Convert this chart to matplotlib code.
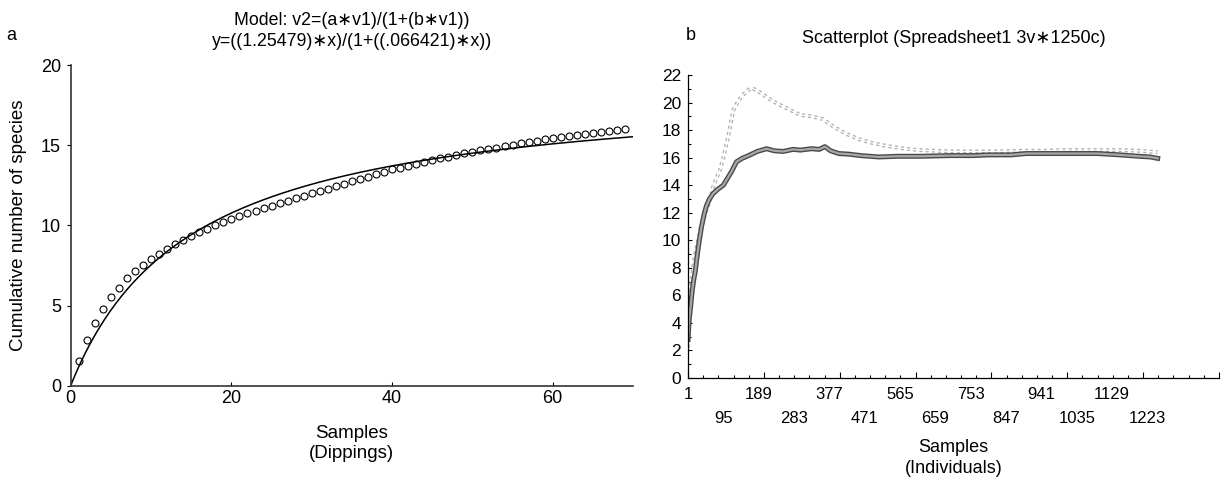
import numpy as np
import matplotlib
matplotlib.use("Agg")
import matplotlib.pyplot as plt
from matplotlib.ticker import MultipleLocator, FixedLocator, NullFormatter

plt.rcParams['font.family'] = ['Liberation Sans', 'DejaVu Sans']

# --- panel a: cumulative species vs dippings ---
dippings = list(range(1, 70))
species = [1.55, 2.85, 3.93, 4.78, 5.53, 6.12, 6.70, 7.15, 7.55, 7.90,
           8.24, 8.50, 8.82, 9.09, 9.35, 9.57, 9.79, 10.00, 10.21, 10.42,
           10.59, 10.76, 10.92, 11.08, 11.24, 11.40, 11.55, 11.70, 11.85, 12.00,
           12.16, 12.31, 12.46, 12.61, 12.76, 12.91, 13.06, 13.21, 13.36, 13.50,
           13.62, 13.74, 13.86, 13.97, 14.08, 14.19, 14.30, 14.40, 14.50, 14.60,
           14.69, 14.78, 14.87, 14.96, 15.05, 15.14, 15.24, 15.31, 15.38, 15.45,
           15.52, 15.58, 15.64, 15.71, 15.77, 15.84, 15.90, 15.97, 16.03]
a_par = 1.25479
b_par = 0.066421

# --- panel b: accumulation over individuals (two series) ---
dark_x = [1, 4, 8, 12, 16, 20, 25, 30, 37, 44, 50, 58, 68, 80, 95, 106, 117,
          130, 145, 166, 185, 210, 230, 254, 280, 300, 330, 350, 365, 380, 402,
          430, 460, 508, 560, 620, 700, 760, 800, 860, 900, 960, 1030, 1090,
          1150, 1200, 1230, 1250]
dark_y = [2.8, 4.2, 5.2, 6.3, 7.1, 7.7, 8.8, 9.8, 11.0, 11.9, 12.5, 13.0, 13.4,
          13.7, 14.0, 14.5, 15.0, 15.7, 15.95, 16.2, 16.45, 16.65, 16.5, 16.45,
          16.6, 16.55, 16.65, 16.6, 16.8, 16.5, 16.3, 16.25, 16.15, 16.05, 16.1,
          16.1, 16.15, 16.15, 16.2, 16.2, 16.3, 16.3, 16.3, 16.3, 16.2, 16.1,
          16.05, 15.95]
light_x = [1, 4, 8, 12, 15, 20, 28, 35, 42, 50, 60, 68, 78, 86, 95, 108, 121,
           130, 145, 161, 170, 184, 200, 215, 240, 270, 299, 330, 360, 385, 410,
           432, 460, 493, 530, 565, 613, 660, 700, 760, 820, 880, 950, 1000,
           1080, 1150, 1200, 1250]
light_y = [2.2, 4.0, 6.0, 7.3, 8.1, 9.0, 10.0, 10.9, 11.5, 12.2, 12.9, 13.9,
           14.6, 15.1, 16.0, 17.55, 19.4, 19.9, 20.5, 20.9, 21.05, 20.9, 20.6,
           20.3, 19.9, 19.5, 19.1, 19.0, 18.8, 18.3, 17.9, 17.6, 17.3, 17.05,
           16.85, 16.7, 16.55, 16.5, 16.45, 16.45, 16.45, 16.5, 16.5, 16.55,
           16.55, 16.55, 16.5, 16.4]
case_labels = list(range(1, 1224, 94))

fig = plt.figure(figsize=(12.24, 4.84), dpi=100)

# panel a
ax1 = fig.add_axes([0.0578, 0.2035, 0.4594, 0.6612])
xs = np.linspace(0, 70, 300)
ax1.plot(xs, a_par * xs / (1 + b_par * xs), color='black', lw=1.1)
ax1.plot(dippings, species, 'o', mfc='none', mec='black', ms=5, mew=0.8)
ax1.set_xlim(0, 70)
ax1.set_ylim(0, 20)
ax1.set_xticks([0, 20, 40, 60])
ax1.set_yticks([0, 5, 10, 15, 20])
ax1.tick_params(axis='x', direction='in', length=3, pad=3, labelsize=13)
ax1.tick_params(axis='y', direction='out', length=3, pad=4, labelsize=13)
for s in ['top', 'right']:
    ax1.spines[s].set_visible(False)
for s in ['left', 'bottom']:
    ax1.spines[s].set_color('#333333')
    ax1.spines[s].set_linewidth(1.2)
ax1.text(0.5, 1.109, "Model: v2=(a\u2217v1)/(1+(b\u2217v1))\ny=((1.25479)\u2217x)/(1+((.066421)\u2217x))",
         transform=ax1.transAxes, ha='center', va='center', fontsize=12.8,
         linespacing=1.3)
ax1.text(0.5, -0.181, "Samples\n(Dippings)", transform=ax1.transAxes,
         ha='center', va='center', fontsize=13.5, linespacing=1.25)
ax1.text(-0.093, 0.5, "Cumulative number of species", transform=ax1.transAxes,
         ha='center', va='center', rotation=90, fontsize=13.5)
fig.text(11.5 / 1224, 1 - 35.7 / 484, "a", ha='center', va='center', fontsize=13)

# panel b
ax2 = fig.add_axes([0.5621, 0.219, 0.4338, 0.626])
ax2.plot(light_x, light_y, color='#b0b0b0', lw=2.8, ls=(0, (0.8, 0.8)))
ax2.plot(light_x, light_y, color='white', lw=0.9)
ax2.plot(dark_x, dark_y, color='#4a4a4a', lw=3.6)
ax2.plot(dark_x, dark_y, color='#a8a8a8', lw=1.6)
ax2.set_xlim(1, 1413)
ax2.set_ylim(0, 22)
ax2.xaxis.set_major_locator(FixedLocator(np.linspace(1, 1413, 8)))
ax2.xaxis.set_minor_locator(FixedLocator(np.linspace(1, 1413, 36)))
ax2.xaxis.set_major_formatter(NullFormatter())
ax2.yaxis.set_major_locator(MultipleLocator(2))
ax2.yaxis.set_minor_locator(MultipleLocator(1))
ax2.tick_params(axis='x', which='major', direction='in', length=4, width=0.8)
ax2.tick_params(axis='x', which='minor', direction='in', length=2, width=0.8)
ax2.tick_params(axis='y', which='major', direction='in', length=3, width=0.8,
                pad=5, labelsize=12.5)
ax2.tick_params(axis='y', which='minor', direction='in', length=2, width=0.8)
for s in ['top', 'right']:
    ax2.spines[s].set_visible(False)
for s in ['left', 'bottom']:
    ax2.spines[s].set_linewidth(0.9)
for i, c in enumerate(case_labels):
    off = -12 if i % 2 == 0 else -29
    ax2.annotate(str(c), xy=(c, 0), xycoords=('data', 'axes fraction'),
                 xytext=(0, off), textcoords='offset points',
                 ha='center', va='center', fontsize=12)
ax2.text(0.5, -0.264, "Samples\n(Individuals)", transform=ax2.transAxes,
         ha='center', va='center', fontsize=13, linespacing=1.25)
ax2.text(0.5, 1.122, "Scatterplot (Spreadsheet1 3v\u22171250c)",
         transform=ax2.transAxes, ha='center', va='center', fontsize=13)
fig.text(690.7 / 1224, 1 - 35 / 484, "b", ha='center', va='center', fontsize=13)

fig.savefig("out.png", dpi=100)
